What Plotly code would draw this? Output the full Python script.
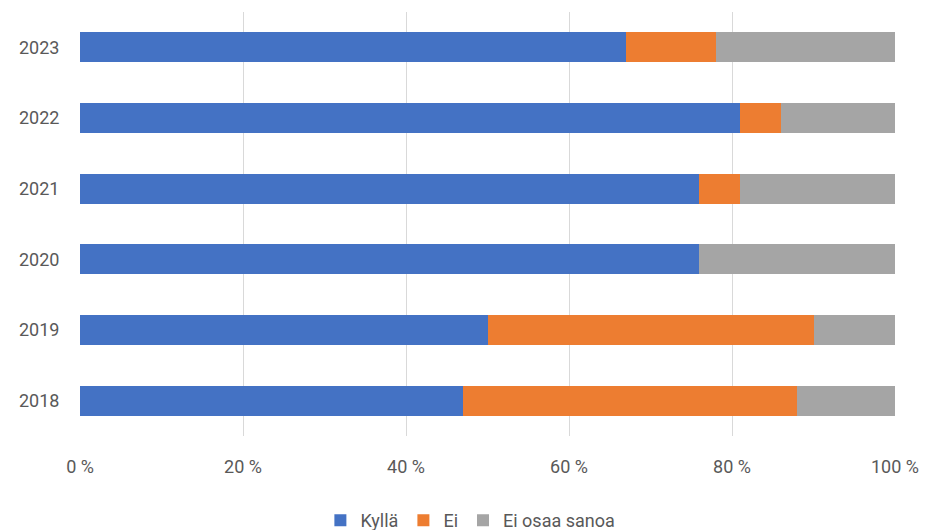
import plotly.graph_objects as go

years = ["2018", "2019", "2020", "2021", "2022", "2023"]
kylla = [47, 50, 76, 76, 81, 67]
ei = [41, 40, 0, 5, 5, 11]
ei_osaa = [12, 10, 24, 19, 14, 22]
xticks = [0, 20, 40, 60, 80, 100]
xticklabels = ["0 %", "20 %", "40 %", "60 %", "80 %", "100 %"]

font_family = "Liberation Sans Narrow, Roboto, Arial, sans-serif"
fig = go.Figure()
for name, vals, col in [("Kyllä", kylla, "#4472C4"), ("Ei", ei, "#ED7D31"), ("Ei osaa sanoa", ei_osaa, "#A5A5A5")]:
    fig.add_trace(go.Bar(y=years, x=vals, name=name, orientation="h",
                         marker=dict(color=col, line=dict(width=0)), width=0.42))

fig.update_layout(
    barmode="stack",
    width=930, height=530,
    margin=dict(l=80, r=35, t=12, b=94, autoexpand=False),
    paper_bgcolor="white", plot_bgcolor="white",
    font=dict(family=font_family, size=18, color="#595959"),
    legend=dict(orientation="h", x=0.479, xanchor="center",
                yref="container", y=0.018, yanchor="middle",
                font=dict(size=18, color="#595959"), traceorder="normal",
                itemwidth=30, tracegroupgap=0),
    xaxis=dict(range=[0, 100], tickvals=xticks, ticktext=xticklabels,
               showgrid=True, gridcolor="#D9D9D9", gridwidth=1, zeroline=False,
               ticks="outside", ticklen=14, tickcolor="rgba(0,0,0,0)",
               showline=False, fixedrange=True, automargin=False),
    yaxis=dict(type="category", categoryorder="array", categoryarray=years,
               showgrid=False, zeroline=False, ticks="outside", ticklen=16,
               tickcolor="rgba(0,0,0,0)", showline=False, automargin=False),
    bargap=0.58,
)
fig.write_html("out.html")
